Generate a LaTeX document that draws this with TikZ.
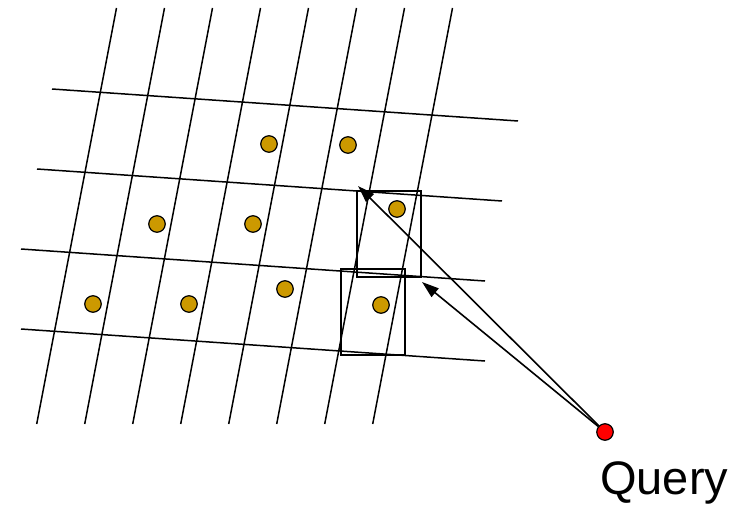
\documentclass[tikz,border=0pt]{standalone}
\usepackage{fontspec}
\setmainfont{Liberation Sans}
\usetikzlibrary{arrows.meta, positioning}
\definecolor{dotgold}{RGB}{204,153,0}
\tikzset{every node/.append style={align=center, inner sep=0pt}}

\begin{document}
\begin{tikzpicture}[
    x=1pt, y=-1pt,
    gline/.style={line width=1.5pt, black},
    dot/.style={circle, draw=black, fill=dotgold, line width=1.2pt, minimum size=16.5pt},
    qdot/.style={dot, fill=red},
    cellbox/.style={rectangle, draw=black, line width=1.8pt, minimum width=64pt, minimum height=86pt},
    a/.style={-{Triangle[length=17pt, width=11pt]}, line width=1.6pt, black}
]
\useasboundingbox (0,0) rectangle (743,505);
% slanted grid
\draw[gline] (116.5,8)--(36.7,424); \draw[gline] (164.5,8)--(84.7,424);
\draw[gline] (212.5,8)--(132.7,424); \draw[gline] (260.5,8)--(180.7,424);
\draw[gline] (308.5,8)--(228.7,424); \draw[gline] (356.5,8)--(276.7,424);
\draw[gline] (404.5,8)--(324.7,424); \draw[gline] (452.5,8)--(372.7,424);
\draw[gline] (52,89)--(518,121); \draw[gline] (37,169)--(502,201);
\draw[gline] (21,249)--(485,281); \draw[gline] (21,329)--(485,361);
% candidate cells
\node[cellbox] (box1) at (389,234) {};
\node[cellbox] (box2) at (373,312) {};
% data points
\node[dot] (p1) at (269,144) {}; \node[dot] (p2) at (348,145) {};
\node[dot] (p3) at (157,224) {}; \node[dot] (p4) at (253,224) {};
\node[dot] (p5) at (397,209) {};
\node[dot] (p6) at (93,304) {};  \node[dot] (p7) at (189,304) {};
\node[dot] (p8) at (285,289) {}; \node[dot] (p9) at (381,305) {};
% query
\node[qdot] (qpt) at (605,432) {};
\node[anchor=base west, font=\fontsize{47}{50}\selectfont] (qlabel) at (600,494) {Query};
\coordinate (tip1) at (358,186);
\coordinate (tip2) at (422,282);
\draw[a] (qpt) -- (tip1);
\draw[a] (qpt) -- (tip2);
\end{tikzpicture}
\end{document}
